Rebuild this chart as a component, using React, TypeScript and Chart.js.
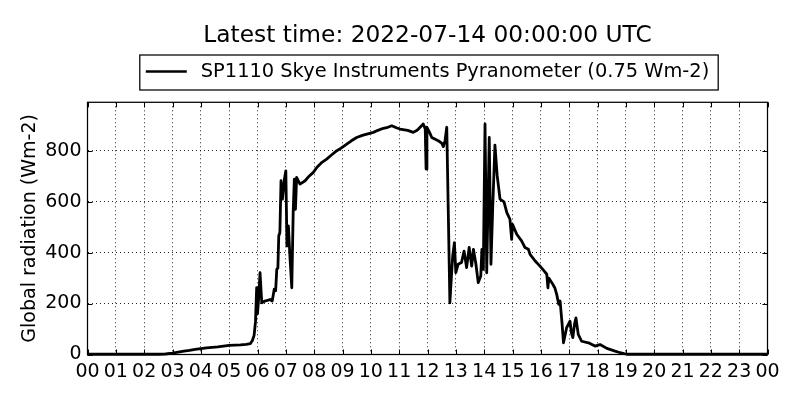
import React, { useEffect, useRef } from "react";
import { Chart, registerables } from "chart.js";

Chart.register(...registerables);

const TITLE = "Latest time: 2022-07-14 00:00:00 UTC";
const SERIES_LABEL = "SP1110 Skye Instruments Pyranometer (0.75 Wm-2)";
const Y_TITLE = "Global radiation (Wm-2)";

const HOURS = [
  0.0, 0.5, 1.0, 1.5, 2.0, 2.5, 2.75, 3.0, 3.2, 3.4, 3.6, 3.8, 4.0, 4.2, 4.4, 4.6, 4.8, 5.0,
  5.2, 5.4, 5.6, 5.75, 5.82, 5.88, 5.93, 5.97, 6.0, 6.03, 6.09, 6.15, 6.26, 6.35, 6.44, 6.52,
  6.59, 6.64, 6.68, 6.72, 6.75, 6.79, 6.83, 6.88, 6.95, 7.0, 7.04, 7.09, 7.15, 7.21, 7.26, 7.3,
  7.34, 7.38, 7.5, 7.68, 7.82, 7.97, 8.1, 8.25, 8.44, 8.6, 8.8, 8.95, 9.15, 9.3, 9.5, 9.7, 9.86,
  10.09, 10.25, 10.44, 10.6, 10.74, 10.9, 11.03, 11.3, 11.5, 11.6, 11.68, 11.85, 11.92, 11.95,
  11.98, 12.08, 12.15, 12.38, 12.5, 12.56, 12.62, 12.68, 12.74, 12.79, 12.84, 12.89, 12.95,
  13.0, 13.08, 13.2, 13.29, 13.38, 13.47, 13.56, 13.62, 13.71, 13.79, 13.88, 13.92, 13.97,
  14.03, 14.09, 14.18, 14.24, 14.3, 14.38, 14.46, 14.56, 14.7, 14.8, 14.91, 14.97, 15.0, 15.15,
  15.32, 15.44, 15.56, 15.62, 15.8, 15.97, 16.1, 16.21, 16.25, 16.28, 16.4, 16.5, 16.56, 16.63,
  16.68, 16.75, 16.8, 16.91, 17.03, 17.08, 17.13, 17.19, 17.24, 17.32, 17.44, 17.68, 17.91,
  18.09, 18.33, 18.62, 18.8, 19.03, 20.0, 22.0, 24.0,
];

const RADIATION = [
  1, 1, 1, 1, 1, 1, 2, 5, 9, 13, 16, 20, 23, 26, 28, 30, 33, 36,
  37, 38, 40, 43, 55, 75, 130, 262, 160, 203, 321, 203, 210, 212, 216, 210,
  256, 250, 334, 340, 465, 479, 682, 610, 688, 721, 426, 505, 374, 262, 560, 688,
  570, 695, 669, 682, 700, 715, 735, 752, 767, 782, 800, 810, 826, 838, 852, 860, 865,
  872, 880, 888, 892, 898, 890, 885, 880, 872, 878, 885, 905, 885, 728,
  892, 870, 852, 839, 830, 816, 840, 892, 520, 203, 300, 387, 439,
  321, 354, 361, 406, 341, 420, 347, 413, 354, 282, 308, 413, 334,
  905, 321, 852, 354, 570, 822, 701, 610, 599, 557, 531, 452, 511, 472,
  446, 420, 413, 393, 367, 347, 330, 315, 262, 300, 280, 260, 236, 197,
  210, 120, 46, 105, 131, 85, 66, 120, 144, 79, 52, 46, 33,
  39, 24, 13, 7, 1, 1, 1, 1,
];

const X_TICKS = [0, 1, 2, 3, 4, 5, 6, 7, 8, 9, 10, 11, 12, 13, 14, 15, 16, 17, 18, 19, 20, 21, 22, 23, 24];
const Y_TICKS = [0, 200, 400, 600, 800];

const X_MIN = 0;
const X_MAX = 24;
const Y_MIN = 0;
const Y_MAX = 990;

const FONT = "'DejaVu Sans', 'Liberation Sans', sans-serif";

const framePlugin = {
  id: "mplFrame",
  afterDraw(chart: any) {
    const { ctx, chartArea } = chart;
    const { left, right, top, bottom } = chartArea;
    ctx.save();
    ctx.strokeStyle = "#000";
    ctx.lineWidth = 1;
    const xs = chart.scales.x;
    const ys = chart.scales.y;
    ctx.beginPath();
    xs.ticks.forEach((t: any) => {
      const px = Math.round(xs.getPixelForValue(t.value)) + 0.5;
      ctx.moveTo(px, bottom);
      ctx.lineTo(px, bottom - 5);
      ctx.moveTo(px, top);
      ctx.lineTo(px, top + 5);
    });
    ys.ticks.forEach((t: any) => {
      const py = Math.round(ys.getPixelForValue(t.value)) + 0.5;
      ctx.moveTo(left, py);
      ctx.lineTo(left + 5, py);
      ctx.moveTo(right, py);
      ctx.lineTo(right - 5, py);
    });
    ctx.stroke();
    ctx.lineWidth = 1.25;
    ctx.strokeRect(left, top, right - left, bottom - top);
    const lg = chart.legend;
    if (lg && lg.legendHitBoxes && lg.legendHitBoxes.length) {
      const hb = lg.legendHitBoxes[0];
      const cy = hb.top + hb.height / 2;
      ctx.lineWidth = 1.25;
      ctx.strokeRect(hb.left - 6, cy - 16.5, hb.width + 15, 35);
      ctx.lineWidth = 2.7;
      ctx.beginPath();
      ctx.moveTo(hb.left, cy);
      ctx.lineTo(hb.left + 41, cy);
      ctx.stroke();
    }
    ctx.restore();
  },
};

export default function App() {
  const canvasRef = useRef<HTMLCanvasElement | null>(null);

  useEffect(() => {
    if (!canvasRef.current) return;
    Chart.defaults.font.family = FONT;
    Chart.defaults.color = "#000";
    const points = HOURS.map((h, i) => ({ x: h, y: RADIATION[i] }));
    const chart = new Chart(canvasRef.current, {
      type: "line",
      data: {
        datasets: [
          {
            label: SERIES_LABEL,
            data: points,
            borderColor: "#000",
            backgroundColor: "#000",
            borderWidth: 2.8,
            pointRadius: 0,
            tension: 0,
            borderJoinStyle: "round",
            borderCapStyle: "round",
            clip: { left: 0, right: 0, top: 0, bottom: 4 } as any,
          },
        ],
      },
      options: {
        responsive: false,
        animation: false,
        devicePixelRatio: 1,
        layout: { padding: { left: 0, right: 32.5, top: 0, bottom: 0 } },
        plugins: {
          title: {
            display: true,
            text: TITLE,
            fullSize: false,
            color: "#000",
            font: { family: FONT, size: 23.3, weight: "normal" },
            padding: { top: 22, bottom: 0 },
          },
          legend: {
            display: true,
            fullSize: false,
            onClick: () => {},
            labels: {
              color: "#000",
              font: { family: FONT, size: 19.4 },
              boxWidth: 45.3,
              boxHeight: 41.6,
              padding: 0.74,
              generateLabels: () => [
                {
                  text: SERIES_LABEL,
                  fillStyle: "rgba(0,0,0,0)",
                  strokeStyle: "rgba(0,0,0,0)",
                  lineWidth: 0,
                  hidden: false,
                  datasetIndex: 0,
                } as any,
              ],
            },
          },
          tooltip: { enabled: false },
        },
        scales: {
          x: {
            type: "linear",
            min: X_MIN,
            max: X_MAX,
            afterFit: (s: any) => {
              s.height = 45.5;
            },
            afterBuildTicks: (s: any) => {
              s.ticks = X_TICKS.map((v) => ({ value: v }));
            },
            ticks: {
              autoSkip: false,
              maxRotation: 0,
              minRotation: 0,
              padding: 6,
              color: "#000",
              font: { family: FONT, size: 19 },
              callback: (v: any) => String(Number(v) % 24).padStart(2, "0"),
            },
            grid: { color: "rgba(0,0,0,0.85)", lineWidth: 1, drawTicks: false },
            border: { display: false, dash: [1, 3] },
          },
          y: {
            type: "linear",
            min: Y_MIN,
            max: Y_MAX,
            afterFit: (s: any) => {
              s.width = 87.5;
            },
            afterBuildTicks: (s: any) => {
              s.ticks = Y_TICKS.map((v) => ({ value: v }));
            },
            ticks: {
              padding: 6,
              color: "#000",
              font: { family: FONT, size: 19 },
              callback: (v: any) => String(v),
            },
            grid: { color: "rgba(0,0,0,0.85)", lineWidth: 1, drawTicks: false },
            border: { display: false, dash: [1, 3] },
            title: {
              display: true,
              text: Y_TITLE,
              color: "#000",
              font: { family: FONT, size: 19 },
              padding: { top: 18.6, bottom: 0 },
            },
          },
        },
      },
      plugins: [framePlugin],
    });
    return () => chart.destroy();
  }, []);

  return (
    <div style={{ position: "absolute", left: 0, top: 0, width: 800, height: 400, background: "#fff" }}>
      <canvas ref={canvasRef} width={800} height={400} style={{ display: "block" }} />
    </div>
  );
}
